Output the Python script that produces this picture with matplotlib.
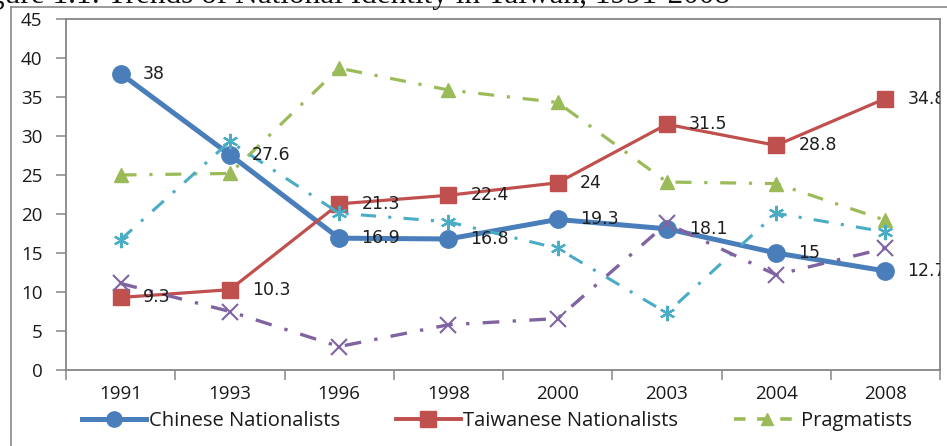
import matplotlib
matplotlib.use("Agg")
import matplotlib.pyplot as plt
from matplotlib.lines import Line2D

# Survey years and shares (%) of each identity group
years = ["1991", "1993", "1996", "1998", "2000", "2003", "2004", "2008"]
chinese_nationalists = [38, 27.6, 16.9, 16.8, 19.3, 18.1, 15, 12.7]
taiwanese_nationalists = [9.3, 10.3, 21.3, 22.4, 24, 31.5, 28.8, 34.8]
pragmatists = [25.0, 25.2, 38.7, 35.9, 34.3, 24.1, 23.9, 19.2]
group_four = [16.7, 29.3, 20.1, 19.0, 15.6, 7.3, 20.1, 17.7]
group_five = [11.1, 7.5, 3.0, 5.8, 6.6, 18.8, 12.2, 15.6]
y_ticks = [0, 5, 10, 15, 20, 25, 30, 35, 40, 45]

W, H = 947, 446
fig = plt.figure(figsize=(W / 100, H / 100), dpi=100)
fig.patch.set_facecolor("white")

left, right, top, bottom = 66, 940, 19, 370
ax = fig.add_axes([left / W, (H - bottom) / H, (right - left) / W, (bottom - top) / H])

x = list(range(len(years)))
frame_gray = "#868686"
label_font = "Open Sans"

ax.plot(x, chinese_nationalists, color="#4A7EBB", lw=3.6, marker="o", ms=12.5,
        zorder=3, solid_capstyle="round")
ax.plot(x, taiwanese_nationalists, color="#C0504D", lw=2.3, marker="s", ms=12,
        zorder=4)
ax.plot(x, pragmatists, color="#9BBB59", lw=2.3, marker="^", ms=10,
        linestyle=(0, (5, 4, 1, 4)), zorder=5)
ax.plot(x, group_four, color="#4BACC6", lw=2.2, marker=(6, 2, 0), ms=11, mew=1.6,
        linestyle=(0, (5, 4, 1, 4)), zorder=6)
ax.plot(x, group_five, color="#8064A2", lw=2.4, marker="x", ms=11, mew=1.5,
        linestyle=(0, (5, 4, 1, 4)), zorder=7)

# Value labels for the two nationalist series
for series in (chinese_nationalists, taiwanese_nationalists):
    for xi, v in zip(x, series):
        ax.annotate(f"{v:g}", (xi, v), xytext=(16, 0), textcoords="offset points",
                    ha="left", va="center", fontsize=12.5, color="#1f1f1f",
                    family="DejaVu Sans", zorder=10, annotation_clip=False,
                    clip_on=True)

ax.set_xlim(-0.5, len(years) - 0.5)
ax.set_ylim(0, 45)
ax.set_yticks(y_ticks)
ax.set_yticklabels([str(t) for t in y_ticks], family=label_font, fontsize=13.5, color="#1a1a1a")
ax.set_xticks([i - 0.5 for i in range(len(years) + 1)])
ax.set_xticklabels([])
ax.set_xticks(x, minor=True)
ax.set_xticklabels(years, minor=True, family=label_font, fontsize=13.5, color="#1a1a1a")
ax.tick_params(axis="x", which="major", length=7, width=1.1, color=frame_gray, direction="out")
ax.tick_params(axis="x", which="minor", length=0, pad=11)
ax.tick_params(axis="y", length=7, width=1.1, color=frame_gray, direction="out", pad=10)
for s in ax.spines.values():
    s.set_color(frame_gray)
    s.set_linewidth(1.3)

# Legend row below the axis labels
handles = [
    Line2D([], [], color="#4A7EBB", lw=3.6, marker="o", ms=11),
    Line2D([], [], color="#C0504D", lw=2.8, marker="s", ms=11),
    Line2D([], [], color="#9BBB59", lw=2.6, marker="^", ms=8, linestyle=(0, (3.2, 3.2))),
]
fig.legend(handles, ["Chinese Nationalists", "Taiwanese Nationalists", "Pragmatists"],
           loc="center", bbox_to_anchor=(497 / W, (H - 421) / H), ncol=3,
           frameon=False, prop={"family": label_font, "size": 14.5}, handlelength=3.2,
           handletextpad=0.12, columnspacing=2.8, labelcolor="#1a1a1a")

# Outer chart frame
fig.add_artist(Line2D([11 / W, 11 / W], [0, (H - 7) / H], color="#8a8a8a", lw=1.2,
                      transform=fig.transFigure))
fig.add_artist(Line2D([11 / W, 1], [(H - 7) / H, (H - 7) / H], color="#8a8a8a", lw=1.2,
                      transform=fig.transFigure))

# Caption above the chart frame
fig.text(730 / W, (H - 3.5) / H, "Figure 1.1: Trends of National Identity in Taiwan, 1991-2008",
         ha="right", va="baseline", family="Liberation Serif", fontsize=22.5, color="#111111")

fig.savefig("out.png", dpi=100, facecolor="white")
